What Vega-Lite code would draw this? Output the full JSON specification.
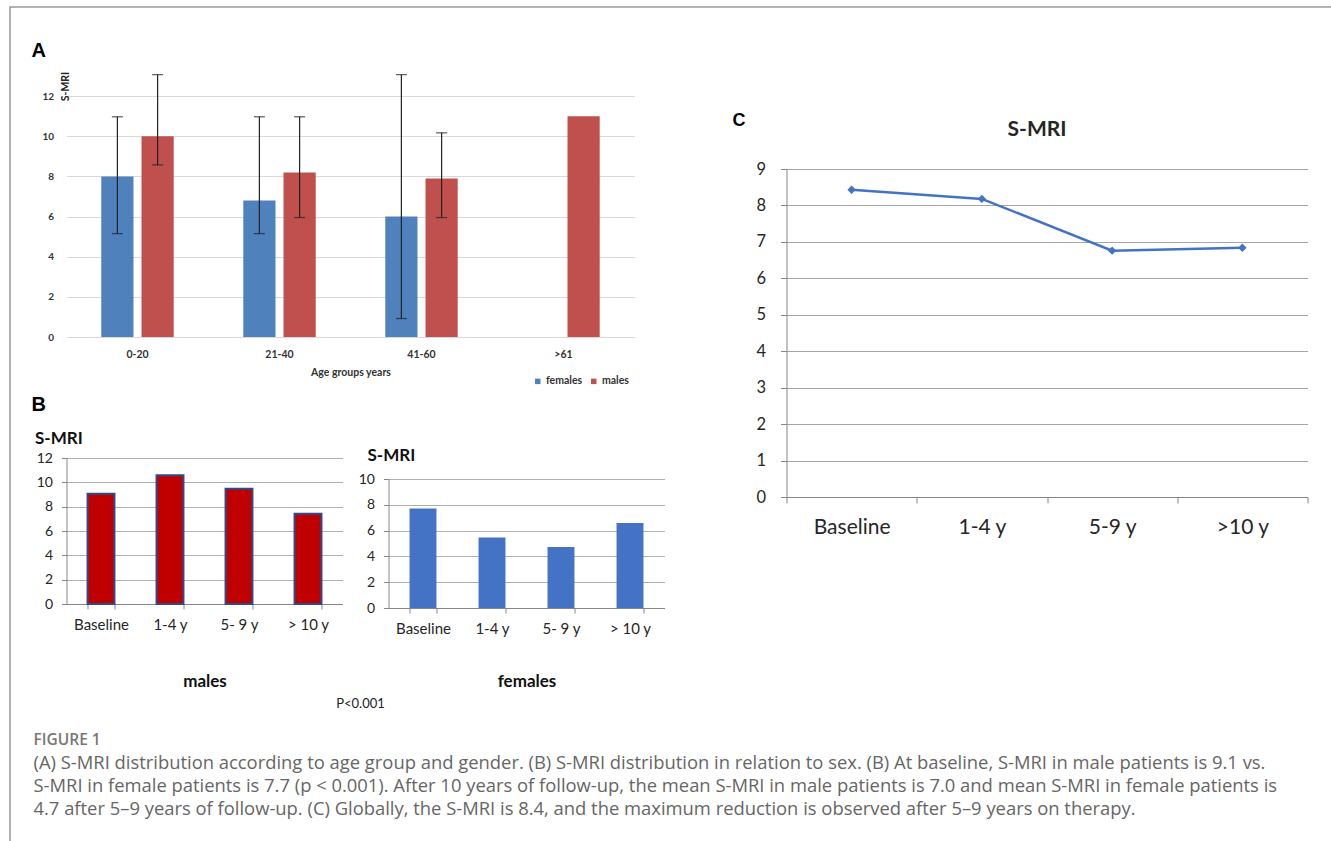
{
  "$schema": "https://vega.github.io/schema/vega-lite/v6.json",
  "autosize": {"type": "pad"},
  "padding": {"left": 9, "top": 6, "right": 0, "bottom": 0},
  "background": "white",
  "config": {
    "view": {"stroke": null},
    "font": "Lato",
    "axis": {"labelFont": "Lato", "titleFont": "Lato", "gridWidth": 1},
    "legend": {"labelFont": "Lato"},
    "title": {"font": "Lato"}
  },
  "datasets": {
    "age": [
      {"age": "0-20", "sex": "females", "v": 8.0, "lo": 5.15, "hi": 10.97},
      {"age": "0-20", "sex": "males", "v": 10.0, "lo": 8.57, "hi": 13.07},
      {"age": "21-40", "sex": "females", "v": 6.8, "lo": 5.15, "hi": 10.97},
      {"age": "21-40", "sex": "males", "v": 8.2, "lo": 5.95, "hi": 10.97},
      {"age": "41-60", "sex": "females", "v": 6.0, "lo": 0.92, "hi": 13.07},
      {"age": "41-60", "sex": "males", "v": 7.9, "lo": 5.95, "hi": 10.17},
      {"age": ">61", "sex": "males", "v": 11.0, "lo": null, "hi": null}
    ],
    "males": [
      {"t": "Baseline", "v": 9.07},
      {"t": "1-4 y", "v": 10.58},
      {"t": "5- 9 y", "v": 9.48},
      {"t": "> 10 y", "v": 7.42}
    ],
    "females": [
      {"t": "Baseline", "v": 7.72},
      {"t": "1-4 y", "v": 5.47},
      {"t": "5- 9 y", "v": 4.73},
      {"t": "> 10 y", "v": 6.59}
    ],
    "overall": [
      {"t": "Baseline", "v": 8.43},
      {"t": "1-4 y", "v": 8.18},
      {"t": "5-9 y", "v": 6.76},
      {"t": ">10 y", "v": 6.84}
    ]
  },
  "bounds": "flush",
  "spacing": 56.5,
  "hconcat": [
    {
      "bounds": "flush",
      "spacing": 0,
      "vconcat": [
        {"width": 1322.5, "height": 835, "data": {"values": []}, "mark": "point", "view": {"stroke": "#9a9a9a", "strokeWidth": 1.5, "fill": null}}
      ]
    },
    {
      "bounds": "flush",
      "spacing": 0,
      "vconcat": [
        {"width": 10, "height": 65, "data": {"values": []}, "mark": "point"},
        {
          "bounds": "flush",
          "spacing": 720,
          "title": {
            "text": "FIGURE 1",
            "subtitle": [
              "(A) S-MRI distribution according to age group and gender. (B) S-MRI distribution in relation to sex. (B) At baseline, S-MRI in male patients is 9.1 vs.",
              "S-MRI in female patients is 7.7 (p < 0.001). After 10 years of follow-up, the mean S-MRI in male patients is 7.0 and mean S-MRI in female patients is",
              "4.7 after 5–9 years of follow-up. (C) Globally, the S-MRI is 8.4, and the maximum reduction is observed after 5–9 years on therapy."
            ],
            "orient": "bottom",
            "anchor": "start",
            "frame": "group",
            "dx": -33,
            "offset": 22,
            "font": "Open Sans",
            "fontSize": 15.5,
            "fontWeight": 600,
            "color": "#777777",
            "subtitleFont": "Open Sans",
            "subtitleFontSize": 18.4,
            "subtitleColor": "#666666",
            "subtitleLineHeight": 23,
            "subtitlePadding": 5
          },
          "hconcat": [
            {
              "bounds": "flush",
              "spacing": 121,
              "vconcat": [
                {
                  "width": 568,
                  "height": 265,
                  "title": {"text": "A", "anchor": "start", "frame": "group", "dx": -35, "offset": 10, "fontSize": 20, "fontWeight": "bold", "font": "Liberation Sans", "color": "#000000"},
                  "data": {"name": "age"},
                  "encoding": {
                    "x": {
                      "field": "age", "type": "nominal", "sort": ["0-20", "21-40", "41-60", ">61"],
                      "scale": {"paddingInner": 0.49, "paddingOuter": 0.245},
                      "axis": {"title": "Age groups years", "labelAngle": 0, "labelFontWeight": "bold", "labelFontSize": 10.5, "labelColor": "#333333", "labelPadding": 12, "ticks": false, "domainColor": "#d9d9d9", "titleFontSize": 10.5, "titleFontWeight": "bold", "titlePadding": 8, "titleColor": "#333333"}
                    },
                    "xOffset": {"field": "sex", "type": "nominal", "sort": ["females", "males"], "scale": {"paddingInner": 0.2, "paddingOuter": 0}}
                  },
                  "layer": [
                    {
                      "mark": {"type": "bar"},
                      "encoding": {
                        "y": {"field": "v", "type": "quantitative", "title": "S-MRI", "scale": {"domain": [0, 13.2], "nice": false},
                          "axis": {"values": [0, 2, 4, 6, 8, 10, 12], "domain": false, "ticks": false, "labelPadding": 13, "labelFontSize": 10, "labelFontWeight": "bold", "labelColor": "#333333", "gridColor": "#d9d9d9", "titleX": -1.5, "titleY": 14, "titleAlign": "center", "titleBaseline": "middle", "titleAngle": -90, "titleFontSize": 10.5, "titleFontWeight": "bold", "titleColor": "#222222"}},
                        "color": {"field": "sex", "type": "nominal", "scale": {"domain": ["females", "males"], "range": ["#4F81BD", "#C0504D"]},
                          "legend": {"orient": "none", "legendX": 522.5, "legendY": 369, "direction": "horizontal", "title": null, "symbolType": "square", "symbolSize": 30, "labelFontSize": 10.5, "labelFontWeight": "bold", "labelColor": "#333333", "columnPadding": 6, "labelOffset": 3}}
                      }
                    },
                    {
                      "mark": {"type": "rule", "color": "#222222", "strokeWidth": 1.2},
                      "encoding": {"y": {"field": "lo", "type": "quantitative", "title": "S-MRI"}, "y2": {"field": "hi"}}
                    },
                    {
                      "mark": {"type": "tick", "color": "#222222", "thickness": 1.3, "size": 11},
                      "encoding": {"y": {"field": "lo", "type": "quantitative", "title": "S-MRI"}}
                    },
                    {
                      "mark": {"type": "tick", "color": "#222222", "thickness": 1.3, "size": 11},
                      "encoding": {"y": {"field": "hi", "type": "quantitative", "title": "S-MRI"}}
                    }
                  ]
                },
                {
                  "bounds": "flush",
                  "spacing": 46,
                  "title": {"text": "P<0.001", "orient": "bottom", "anchor": "middle", "frame": "group", "fontSize": 13, "fontWeight": "normal", "offset": 9, "dx": 294, "color": "#222222"},
                  "hconcat": [
                    {
                      "width": 276,
                      "height": 146,
                      "title": {"text": "B", "anchor": "start", "frame": "group", "dx": -35, "offset": 14, "fontSize": 20, "fontWeight": "bold", "font": "Liberation Sans", "color": "#000000"},
                      "data": {"name": "males"},
                      "mark": {"type": "bar", "color": "#C00000", "stroke": "#2F4A8A", "strokeWidth": 2},
                      "encoding": {
                        "x": {"field": "t", "type": "nominal", "sort": null, "scale": {"paddingInner": 0.61, "paddingOuter": 0.305},
                          "axis": {"title": "males", "titleFontSize": 17, "titleFontWeight": "bold", "titlePadding": 41, "titleColor": "#111111", "labelAngle": 0, "labelFontSize": 15, "labelColor": "#262626", "labelPadding": 8, "tickBand": "extent", "tickSize": 5, "tickColor": "#868686", "domainColor": "#868686"}},
                        "y": {"field": "v", "type": "quantitative", "scale": {"domain": [0, 12], "nice": false},
                          "axis": {"values": [0, 2, 4, 6, 8, 10, 12], "title": "S-MRI", "titleAngle": 0, "titleAlign": "left", "titleBaseline": "middle", "titleX": -32, "titleY": -20, "titleFontSize": 17, "titleFontWeight": "bold", "titleColor": "#111111", "labelFontSize": 14, "labelColor": "#262626", "labelPadding": 9, "tickSize": 5, "tickColor": "#868686", "domainColor": "#868686", "gridColor": "#b0b0b0"}}
                      }
                    },
                    {
                      "bounds": "flush",
                      "spacing": 0,
                      "vconcat": [
                        {"width": 276, "height": 21, "data": {"values": []}, "mark": "point"},
                        {
                          "width": 276,
                          "height": 129,
                          "data": {"name": "females"},
                          "mark": {"type": "bar", "color": "#4472C4"},
                          "encoding": {
                            "x": {"field": "t", "type": "nominal", "sort": null, "scale": {"paddingInner": 0.61, "paddingOuter": 0.305},
                              "axis": {"title": "females", "titleFontSize": 17, "titleFontWeight": "bold", "titlePadding": 37, "titleColor": "#111111", "labelAngle": 0, "labelFontSize": 15, "labelColor": "#262626", "labelPadding": 8, "tickBand": "extent", "tickSize": 5, "tickColor": "#868686", "domainColor": "#868686"}},
                            "y": {"field": "v", "type": "quantitative", "scale": {"domain": [0, 10], "nice": false},
                              "axis": {"values": [0, 2, 4, 6, 8, 10], "title": "S-MRI", "titleAngle": 0, "titleAlign": "left", "titleBaseline": "middle", "titleX": -21.5, "titleY": -24, "titleFontSize": 17, "titleFontWeight": "bold", "titleColor": "#111111", "labelFontSize": 14, "labelColor": "#262626", "labelPadding": 9, "tickSize": 5, "tickColor": "#868686", "domainColor": "#868686", "gridColor": "#b0b0b0"}}
                          }
                        }
                      ]
                    }
                  ]
                }
              ]
            },
            {
              "bounds": "flush",
              "spacing": 0,
              "title": {"text": "C", "anchor": "start", "frame": "group", "dx": -54, "offset": 0, "dy": 58, "fontSize": 18, "fontWeight": "bold", "font": "Liberation Sans", "color": "#000000"},
              "vconcat": [
                {"width": 521, "height": 97, "data": {"values": []}, "mark": "point"},
                {
                  "width": 521,
                  "height": 328,
                  "title": {"text": "S-MRI", "anchor": "middle", "frame": "group", "dx": -10, "offset": 21, "fontSize": 21, "fontWeight": "bold", "color": "#262626"},
                  "data": {"name": "overall"},
                  "encoding": {
                    "x": {"field": "t", "type": "nominal", "sort": null, "scale": {"type": "band", "paddingInner": 0, "paddingOuter": 0},
                      "axis": {"title": null, "labelAngle": 0, "labelFontSize": 21, "labelColor": "#262626", "labelPadding": 13, "tickBand": "extent", "tickSize": 6, "tickColor": "#868686", "domainColor": "#868686"}},
                    "y": {"field": "v", "type": "quantitative", "scale": {"domain": [0, 9], "nice": false},
                      "axis": {"values": [0, 1, 2, 3, 4, 5, 6, 7, 8, 9], "title": null, "labelFontSize": 16.5, "labelColor": "#262626", "labelPadding": 15, "tickSize": 6, "tickColor": "#868686", "domainColor": "#868686", "gridColor": "#a6a6a6"}}
                  },
                  "layer": [
                    {"mark": {"type": "line", "color": "#4472C4", "strokeWidth": 2.5}},
                    {"mark": {"type": "point", "shape": "diamond", "filled": true, "color": "#4472C4", "size": 70, "opacity": 1}}
                  ]
                }
              ]
            }
          ]
        }
      ]
    }
  ]
}
